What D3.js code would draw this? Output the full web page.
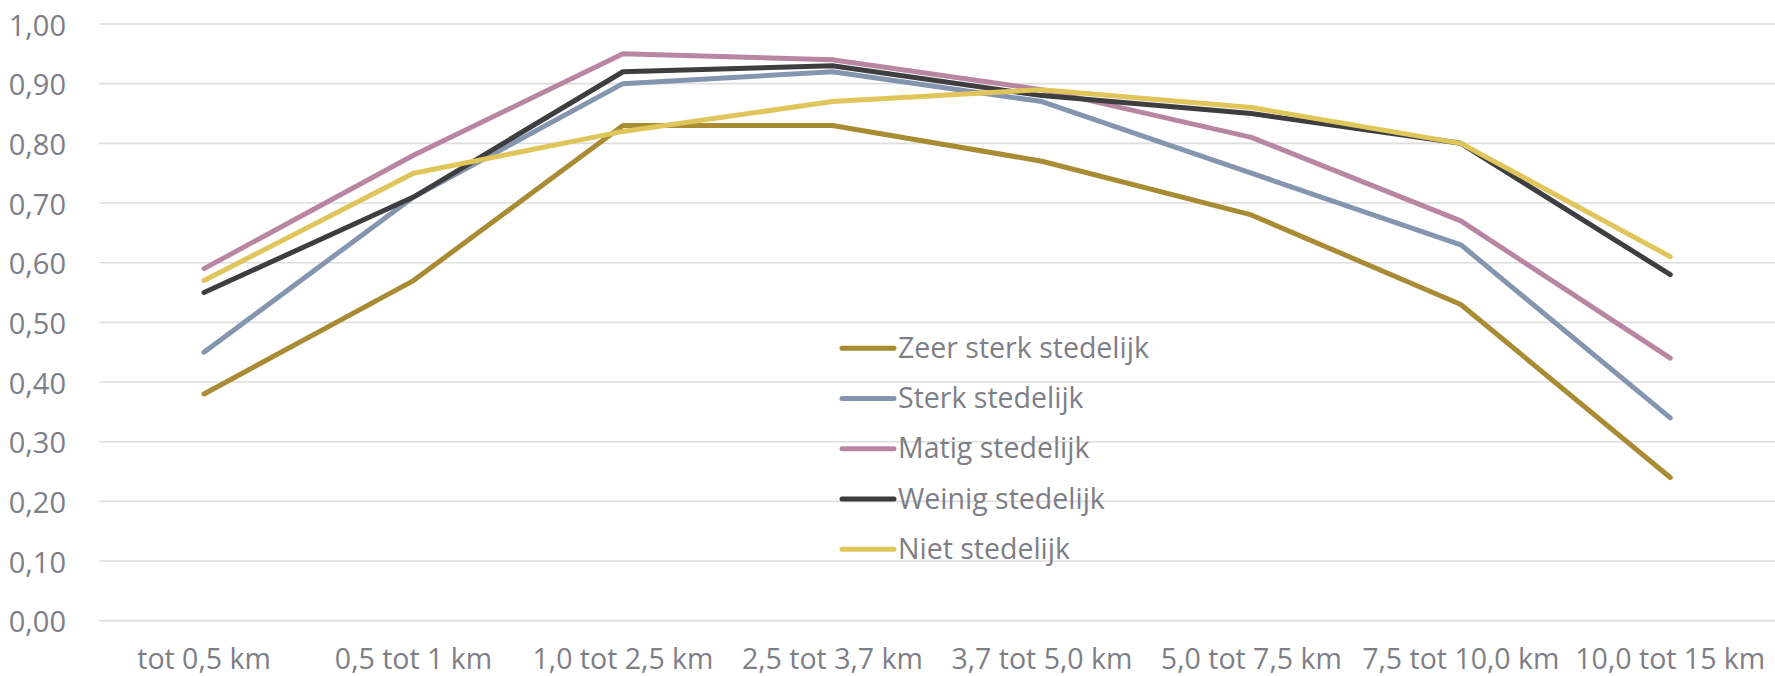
<!DOCTYPE html>
<html>
<head>
<meta charset="utf-8">
<script src="https://cdn.jsdelivr.net/npm/d3@7"></script>
<style>
  html, body { margin: 0; padding: 0; background: #ffffff; }
  svg { display: block; }
  text { font-family: "Open Sans", "Noto Sans", sans-serif; fill: #7e7e86; }
</style>
</head>
<body>
<svg id="chart" width="1775" height="676"></svg>
<script>
const categories = ["tot 0,5 km", "0,5 tot 1 km", "1,0 tot 2,5 km", "2,5 tot 3,7 km", "3,7 tot 5,0 km", "5,0 tot 7,5 km", "7,5 tot 10,0 km", "10,0 tot 15 km"];
const seriesNames = ["Zeer sterk stedelijk", "Sterk stedelijk", "Matig stedelijk", "Weinig stedelijk", "Niet stedelijk"];
const zeerSterk = [0.38, 0.57, 0.83, 0.83, 0.77, 0.68, 0.53, 0.24];
const sterk     = [0.45, 0.71, 0.90, 0.92, 0.87, 0.75, 0.63, 0.34];
const matig     = [0.59, 0.78, 0.95, 0.94, 0.89, 0.81, 0.67, 0.44];
const weinig    = [0.55, 0.71, 0.92, 0.93, 0.88, 0.85, 0.80, 0.58];
const niet      = [0.57, 0.75, 0.82, 0.87, 0.89, 0.86, 0.80, 0.61];
const yTicks = [0, 0.1, 0.2, 0.3, 0.4, 0.5, 0.6, 0.7, 0.8, 0.9, 1.0];
const colors = ["#a88b32", "#8495b0", "#b886a3", "#3e3e40", "#e0c55a"];

const seriesValues = [zeerSterk, sterk, matig, weinig, niet];

const svg = d3.select("#chart");
const plot = { left: 99.3, right: 1775, top: 24, bottom: 620.7 };

const x = d3.scaleBand().domain(categories).range([plot.left, plot.right]).padding(0);
const y = d3.scaleLinear().domain([0, 1]).range([plot.bottom, plot.top]);

// gridlines
svg.append("g").selectAll("line").data(yTicks).join("line")
  .attr("x1", plot.left).attr("x2", plot.right)
  .attr("y1", d => y(d)).attr("y2", d => y(d))
  .attr("stroke", "#dedede").attr("stroke-width", 1.6);

// y axis labels
const fmt = d => d.toFixed(2).replace(".", ",");
svg.append("g").selectAll("text").data(yTicks).join("text")
  .attr("x", 66).attr("y", d => y(d))
  .attr("text-anchor", "end").attr("dominant-baseline", "central")
  .style("font-size", "29px")
  .text(fmt);

// x axis labels
svg.append("g").selectAll("text").data(categories).join("text")
  .attr("x", d => x(d) + x.bandwidth() / 2).attr("y", 669)
  .attr("text-anchor", "middle")
  .style("font-size", "28.5px")
  .text(d => d);

// lines
const line = d3.line()
  .x((d, i) => x(categories[i]) + x.bandwidth() / 2)
  .y(d => y(d));

svg.append("g").selectAll("path").data(seriesValues).join("path")
  .attr("d", d => line(d))
  .attr("fill", "none")
  .attr("stroke", (d, i) => colors[i])
  .attr("stroke-width", 5)
  .attr("stroke-linecap", "round")
  .attr("stroke-linejoin", "round");

// legend
const legend = svg.append("g");
const legendY = d3.scaleLinear().domain([0, 4]).range([348.3, 549.3]);
const items = legend.selectAll("g").data(seriesNames).join("g")
  .attr("transform", (d, i) => `translate(0,${legendY(i)})`);
items.append("line")
  .attr("x1", 842).attr("x2", 894).attr("y1", 0).attr("y2", 0)
  .attr("stroke", (d, i) => colors[i]).attr("stroke-width", 5)
  .attr("stroke-linecap", "round");
items.append("text")
  .attr("x", 898).attr("y", 9.5)
  .style("font-size", "28.5px")
  .text(d => d);
</script>
</body>
</html>
